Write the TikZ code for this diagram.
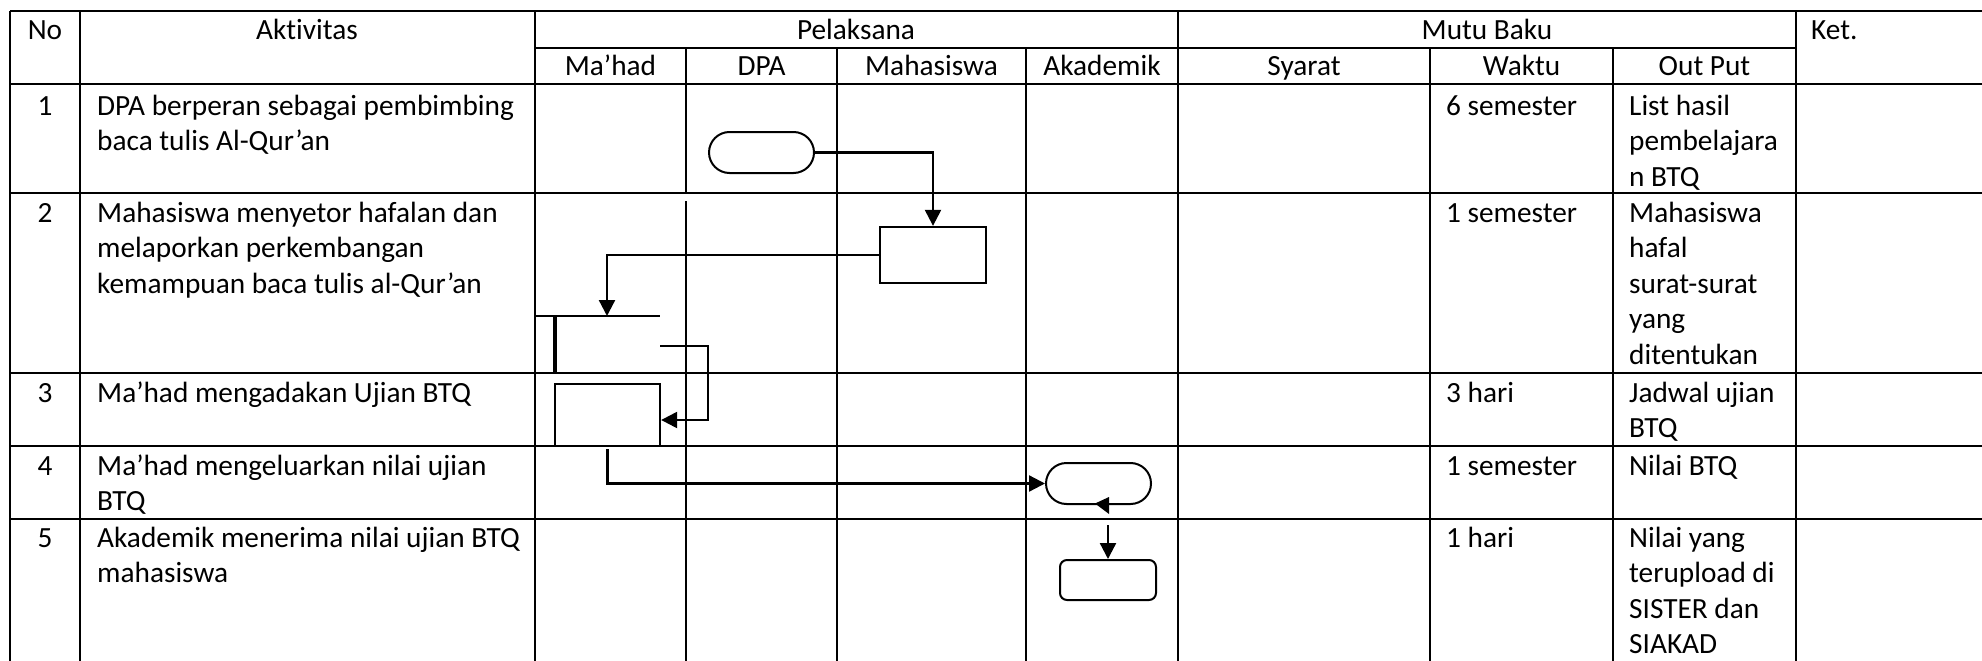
\documentclass[tikz,border=0pt]{standalone}
\usepackage{fontspec}
\setmainfont{Carlito}[Ligatures=NoCommon, RawFeature={-liga;-clig;-calt;-dlig}]
\usepackage{tikz}
\usetikzlibrary{shapes,arrows.meta}

\tikzset{
  grid/.style={black, line width=2.6pt},
  flow/.style={black, line width=2.3pt, -{Triangle[length=16pt,width=16pt]}},
  lbl/.style={anchor=base, inner sep=0pt, font=\fontsize{29.3}{35.5}\selectfont},
  cell/.style={anchor=north west, inner sep=0pt, align=left, font=\fontsize{29.3}{35.5}\selectfont},
  term/.style={draw, rounded rectangle, line width=2pt, minimum width=105pt, minimum height=41pt, inner sep=0pt},
  proc/.style={draw, rectangle, line width=2.3pt, inner sep=0pt}
}

\begin{document}
\begin{tikzpicture}[x=1pt, y=-1pt]
\useasboundingbox (0,0) rectangle (1982,661);
% table lines
\draw[grid] (10,11) -- (1982,11);
\draw[grid] (535,48) -- (1796,48);
\draw[grid] (10,84) -- (1982,84);
\draw[grid] (10,193) -- (1982,193);
\draw[grid] (10,373) -- (1982,373);
\draw[grid] (10,446) -- (1982,446);
\draw[grid] (10,519) -- (1982,519);
\draw[grid] (10,11) -- (10,661);
\draw[grid] (80,11) -- (80,661);
\draw[grid] (535,11) -- (535,661);
\draw[grid] (686,48) -- (686,193);
\draw[grid] (686,201) -- (686,661);
\draw[grid] (837,48) -- (837,661);
\draw[grid] (1026,48) -- (1026,661);
\draw[grid] (1178,11) -- (1178,661);
\draw[grid] (1430,48) -- (1430,661);
\draw[grid] (1613,48) -- (1613,661);
\draw[grid] (1796,11) -- (1796,661);

% header
\node[lbl] (hNo) at (45,40) {No};
\node[lbl] (hAkt) at (307,40) {Aktivitas};
\node[lbl] (hPel) at (856,40) {Pelaksana};
\node[lbl] (hMutu) at (1487,40) {Mutu Baku};
\node[lbl, anchor=base west] (hKet) at (1811,40) {Ket.};
\node[lbl] (hMahad) at (610.5,75) {Ma’had};
\node[lbl] (hDpa) at (761.5,75) {DPA};
\node[lbl] (hMhs) at (931.5,75) {Mahasiswa};
\node[lbl] (hAkd) at (1102,75) {Akademik};
\node[lbl] (hSyarat) at (1304,75) {Syarat};
\node[lbl] (hWaktu) at (1521.5,75) {Waktu};
\node[lbl] (hOut) at (1704.5,75) {Out Put};

% rows
\node[lbl] (n1) at (45,115) {1};
\node[cell] (a1) at (97,90.15) {\strut DPA berperan sebagai pembimbing\\baca tulis Al-Qur’an};
\node[cell] (w1) at (1446,90.15) {\strut 6 semester};
\node[cell] (o1) at (1629,90.15) {\strut List hasil\\pembelajara\\n BTQ};

\node[lbl] (n2) at (45,222) {2};
\node[cell] (a2) at (97,197.15) {\strut Mahasiswa menyetor hafalan dan\\melaporkan perkembangan\\kemampuan baca tulis al-Qur’an};
\node[cell] (w2) at (1446,197.15) {\strut 1 semester};
\node[cell] (o2) at (1629,197.15) {\strut Mahasiswa\\hafal\\surat-surat\\yang\\ditentukan};

\node[lbl] (n3) at (45,402) {3};
\node[cell] (a3) at (97,377.15) {\strut Ma’had mengadakan Ujian BTQ};
\node[cell] (w3) at (1446,377.15) {\strut 3 hari};
\node[cell] (o3) at (1629,377.15) {\strut Jadwal ujian\\BTQ};

\node[lbl] (n4) at (45,475) {4};
\node[cell] (a4) at (97,450.15) {\strut Ma’had mengeluarkan nilai ujian\\BTQ};
\node[cell] (w4) at (1446,450.15) {\strut 1 semester};
\node[cell] (o4) at (1629,450.15) {\strut Nilai BTQ};

\node[lbl] (n5) at (45,547) {5};
\node[cell] (a5) at (97,522.15) {\strut Akademik menerima nilai ujian BTQ\\mahasiswa};
\node[cell] (w5) at (1446,522.15) {\strut 1 hari};
\node[cell] (o5) at (1629,522.15) {\strut Nilai yang\\terupload di\\SISTER dan\\SIAKAD};

% flow
\node[term] (dpaStart) at (761.5,152.5) {};
\node[proc, minimum width=106pt, minimum height=56pt] (mhsBox) at (933,255) {};
\coordinate (opL) at (535,316);
\coordinate (opR) at (660,316);
\coordinate (opTop) at (607,316);
\coordinate (opOut) at (660,346);
\draw[line width=2.3pt] (opL) -- (opR);
\draw[line width=3.2pt] (555,316) -- (555,373);
\node[proc, minimum width=105pt, minimum height=62pt] (ujianBox) at (607.5,415) {};
\node[term] (akdStart) at (1098.5,483.5) {};
\node[proc, line width=2pt, rounded corners=7pt, minimum width=96pt, minimum height=40pt] (akdBox) at (1108,580) {};
\coordinate (akdIn) at (1108,525);

\draw[flow] (dpaStart.east) -| (mhsBox.north);
\draw[flow] (mhsBox.west) -| (opTop);
\draw[flow] (opOut) -- ++(48,0) |- ([yshift=-5pt]ujianBox.east);
\draw[flow] ([yshift=-2pt]ujianBox.south) |- (akdStart.west);
\fill (1095,503.5) -- (1109,497) -- (1109,514) -- cycle;
\draw[flow] (akdIn) -- (akdBox.north);
\end{tikzpicture}
\end{document}
